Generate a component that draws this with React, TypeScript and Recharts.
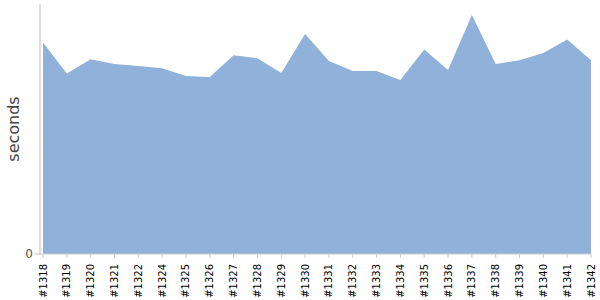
import React from 'react'
import { AreaChart, Area, XAxis, YAxis } from 'recharts'

const BUILDS = [
  '#1318', '#1319', '#1320', '#1321', '#1322', '#1324', '#1325', '#1326',
  '#1327', '#1328', '#1329', '#1330', '#1331', '#1332', '#1333', '#1334',
  '#1335', '#1336', '#1337', '#1338', '#1339', '#1340', '#1341', '#1342',
]

const SECONDS = [
  210.7, 179.7, 194, 189.3, 187.3, 185, 177.3, 176.3,
  198, 195, 180.3, 219, 192.3, 182.3, 182.3, 173.3,
  203.7, 183.3, 238, 189.3, 193, 200.3, 213.7, 193,
]

const Y_TICKS = [0]

const data = BUILDS.map((build, i) => ({ build, seconds: SECONDS[i] }))

const FONT = '"DejaVu Sans", sans-serif'

const BuildTick = (props: any) => {
  const { x, payload } = props
  return (
    <g transform={`translate(${x},264)`}>
      <text
        x={0}
        y={0}
        dy="0.35em"
        transform="rotate(-90)"
        textAnchor="end"
        fontSize={10}
        fontFamily={FONT}
        fill="#000"
      >
        {payload.value}
      </text>
    </g>
  )
}

export default function App() {
  return (
    <div style={{ position: 'absolute', left: 0, top: 0, background: '#fff' }}>
      <AreaChart
        width={600}
        height={300}
        data={data}
        margin={{ top: 4, right: 9, left: 0, bottom: 0 }}
      >
        <XAxis
          dataKey="build"
          interval={0}
          height={46}
          padding={{ left: 3, right: 0 }}
          stroke="#ccc"
          tickSize={4}
          tick={<BuildTick />}
        />
        <YAxis
          width={40}
          domain={[0, 249]}
          ticks={Y_TICKS}
          stroke="#bbb"
          tickSize={5}
          tickMargin={2}
          tick={{ fill: '#555', fontSize: 12, fontFamily: FONT }}
          label={{
            value: 'seconds',
            angle: -90,
            position: 'insideLeft',
            offset: 13,
            style: { fill: '#444', fontSize: 16, fontFamily: FONT, textAnchor: 'middle' },
          }}
        />
        <Area
          type="linear"
          dataKey="seconds"
          stroke="none"
          fill="#90b2da"
          fillOpacity={1}
          isAnimationActive={false}
        />
      </AreaChart>
    </div>
  )
}
